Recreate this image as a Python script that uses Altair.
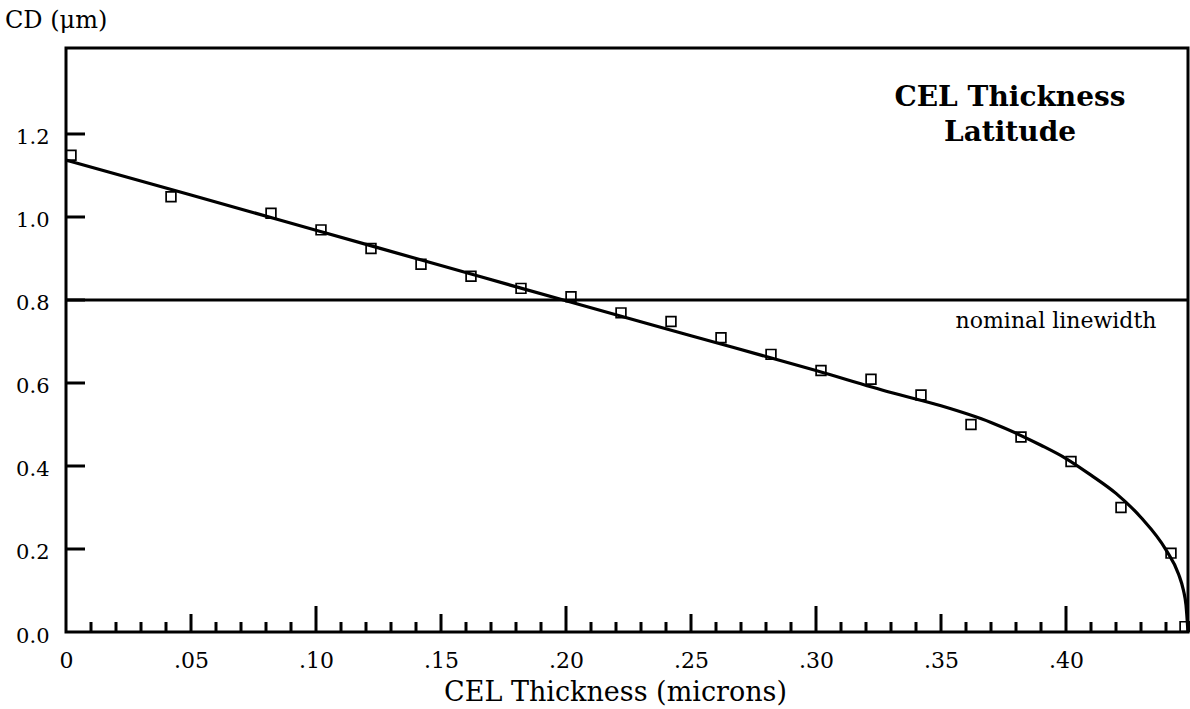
import altair as alt
import pandas as pd

# measured points (open squares)
pt_x = [0.002, 0.042, 0.082, 0.102, 0.122, 0.142, 0.162, 0.182, 0.202, 0.222, 0.242,
        0.262, 0.282, 0.302, 0.322, 0.342, 0.362, 0.382, 0.402, 0.422, 0.442, 0.4476]
pt_y = [1.149, 1.049, 1.009, 0.969, 0.924, 0.886, 0.857, 0.828, 0.808, 0.769, 0.748,
        0.709, 0.669, 0.630, 0.609, 0.571, 0.500, 0.470, 0.411, 0.300, 0.190, 0.013]

# fitted curve
fit_x = [0.0, 0.05, 0.10, 0.15, 0.20, 0.25, 0.30, 0.33, 0.35, 0.37, 0.39, 0.40,
         0.41, 0.42, 0.43, 0.44, 0.445, 0.447, 0.448, 0.4488]
fit_y = [1.137, 1.053, 0.968, 0.883, 0.798, 0.714, 0.630, 0.577, 0.545, 0.505, 0.450, 0.418,
         0.378, 0.334, 0.276, 0.198, 0.140, 0.100, 0.065, 0.0]

nominal = [0.8]

x_labels = [0.0, 0.05, 0.10, 0.15, 0.20, 0.25, 0.30, 0.35, 0.40]
y_labels = [0.0, 0.2, 0.4, 0.6, 0.8, 1.0, 1.2]
x_minor = [0.01, 0.02, 0.03, 0.04, 0.06, 0.07, 0.08, 0.09, 0.11, 0.12, 0.13, 0.14,
           0.16, 0.17, 0.18, 0.19, 0.21, 0.22, 0.23, 0.24, 0.26, 0.27, 0.28, 0.29,
           0.31, 0.32, 0.33, 0.34, 0.36, 0.37, 0.38, 0.39, 0.41, 0.42, 0.43, 0.44]
x_mid = [0.05, 0.15, 0.25, 0.35]
x_major = [0.10, 0.20, 0.30, 0.40]
y_ticks = [0.2, 0.4, 0.6, 0.8, 1.0, 1.2]

W, H = 1122, 584
FONT = "DejaVu Serif"
XDOM = [0, 0.4488]
YDOM = [0, 1.4072]

xs = alt.Scale(domain=XDOM, nice=False, zero=False)
ys = alt.Scale(domain=YDOM, nice=False, zero=False)

pts = pd.DataFrame({"x": pt_x, "y": pt_y})
fit = pd.DataFrame({"x": fit_x, "y": fit_y})

x_axis = alt.Axis(values=x_labels, ticks=False, tickSize=0, domain=False, grid=False,
                  labelExpr="datum.value == 0 ? '0' : replace(format(datum.value, '.2f'), '0.', '.')",
                  labelFont=FONT, labelFontSize=22, labelColor="black", labelFlush=False,
                  labelBaseline="alphabetic", labelPadding=35,
                  title="CEL Thickness (microns)", titleFont=FONT, titleFontSize=27,
                  titleFontWeight="normal", titleColor="black",
                  titleBaseline="alphabetic", titleY=68, titleX=549)
y_axis = alt.Axis(values=y_labels, ticks=False, tickSize=0, domain=False, grid=False,
                  format=".1f", labelFont=FONT, labelFontSize=21, labelColor="black",
                  labelFlush=False, labelPadding=17, labelOffset=4, title=None)

line = alt.Chart(fit).mark_line(color="black", strokeWidth=3.2, interpolate="monotone").encode(
    x=alt.X("x:Q", scale=xs, axis=x_axis),
    y=alt.Y("y:Q", scale=ys, axis=y_axis),
)

squares = alt.Chart(pts).mark_point(shape="square", filled=False, color="black",
                                    size=95, strokeWidth=1.7, opacity=1).encode(
    x=alt.X("x:Q", scale=xs),
    y=alt.Y("y:Q", scale=ys),
)

nom = alt.Chart(pd.DataFrame({"y": nominal})).mark_rule(color="black", strokeWidth=3).encode(
    y=alt.Y("y:Q", scale=ys), x=alt.value(0), x2=alt.value(W)
)

def xticks(vals, length):
    return alt.Chart(pd.DataFrame({"x": vals})).mark_rule(color="black", strokeWidth=3).encode(
        x=alt.X("x:Q", scale=xs), y=alt.value(H), y2=alt.value(H - length)
    )

yt = alt.Chart(pd.DataFrame({"y": y_ticks})).mark_rule(color="black", strokeWidth=3).encode(
    y=alt.Y("y:Q", scale=ys), x=alt.value(0), x2=alt.value(19)
)

one = pd.DataFrame({"a": [0]})
ytitle = alt.Chart(one).mark_text(text="CD (μm)", font=FONT, fontSize=24, align="left",
                                  baseline="alphabetic", color="black").encode(
    x=alt.value(-61), y=alt.value(-20))
ann1 = alt.Chart(one).mark_text(text="CEL Thickness", font=FONT, fontSize=28, fontWeight="bold",
                                align="center", baseline="middle", color="black").encode(
    x=alt.value(944), y=alt.value(50))
ann2 = alt.Chart(one).mark_text(text="Latitude", font=FONT, fontSize=28, fontWeight="bold",
                                align="center", baseline="middle", color="black").encode(
    x=alt.value(944), y=alt.value(85))
ann3 = alt.Chart(one).mark_text(text="nominal linewidth", font=FONT, fontSize=22,
                                align="center", baseline="alphabetic", color="black").encode(
    x=alt.value(990), y=alt.value(280))

chart = alt.layer(
    nom, line, squares, xticks(x_minor, 10), xticks(x_mid, 18), xticks(x_major, 26), yt,
    ytitle, ann1, ann2, ann3
).properties(
    width=W, height=H,
    padding={"left": 66, "top": 48, "right": 2, "bottom": 77},
    autosize=alt.AutoSizeParams(type="none"),
    background="white",
).configure_view(stroke="black", strokeWidth=3)

chart.save("out.html", embed_options={"renderer": "svg", "actions": False})
